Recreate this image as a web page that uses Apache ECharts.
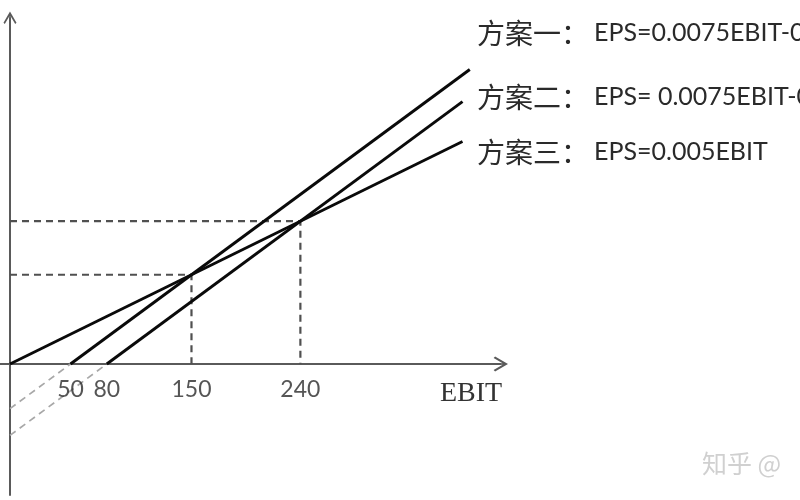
<!DOCTYPE html>
<html><head><meta charset="utf-8">
<script src="https://cdn.jsdelivr.net/npm/echarts@6/dist/echarts.min.js"></script>
<style>html,body{margin:0;padding:0;background:#fff}#c{width:800px;height:500px}</style>
</head><body><div id="c"></div>
<script>
// EBIT values shown as tick labels
const xTicks = [50, 80, 150, 240];
// Plan lines (EBIT, EPS)
const plan1 = [[50, 0], [380, 2.475]];
const plan2 = [[80, 0], [374, 2.205]];
const plan3 = [[0, 0], [374, 1.87]];
// Extensions below zero (dashed, light gray)
const plan1Ext = [[0, -0.375], [50, 0]];
const plan2Ext = [[0, -0.6], [80, 0]];
// Indifference-point guides
const guide150 = [[0, 0.75], [150, 0.75], [150, 0]];
const guide240 = [[0, 1.2], [240, 1.2], [240, 0]];
// Annotation texts
const planNames = ['方案一：', '方案二：', '方案三：'];
const planFormulas = ['EPS=0.0075EBIT-0.375', 'EPS= 0.0075EBIT-0.6', 'EPS=0.005EBIT'];
const axisTitle = 'EBIT';
const watermark = '知乎 @';

const chevron = 'path://M50,0 L100,86 L90,96 L55,36 L55,100 L45,100 L45,36 L10,96 L0,86 Z';
const chart = echarts.init(document.getElementById('c'));

function solid(data) {
  return { type: 'line', data, symbol: 'none', silent: true, z: 5,
    lineStyle: { color: '#0a0a0a', width: 2.9 } };
}
function dashed(data, color, width, dash) {
  return { type: 'line', data, symbol: 'none', silent: true, z: 3,
    lineStyle: { color, width, type: dash } };
}

const textYs = [33, 97, 152];
const graphics = planNames.map((n, i) => ({
  type: 'text', x: 477, y: textYs[i], silent: true,
  style: {
    text: '{a|' + n + '}{b|' + planFormulas[i] + '}',
    verticalAlign: 'middle',
    rich: {
      a: { fontSize: 28, fontFamily: 'Noto Sans CJK SC', fill: '#2a2a2a' },
      b: { fontSize: 25, fontFamily: 'Lato', fill: '#2a2a2a', padding: [0, 0, 0, 5] }
    }
  }
}));
graphics.push({ type: 'text', x: 440, y: 394, silent: true,
  style: { text: axisTitle, fontSize: 28, fontFamily: 'Liberation Serif', fill: '#333', verticalAlign: 'middle' } });
graphics.push({ type: 'text', x: 702, y: 463, silent: true,
  style: { text: watermark, fontSize: 25, fontFamily: 'Noto Sans CJK SC', fill: '#d0d0d0', verticalAlign: 'middle' } });

chart.setOption({
  animation: false,
  backgroundColor: '#fff',
  grid: { left: 0, right: 299.5, top: 18, bottom: 5, containLabel: false, outerBoundsMode: 'none' },
  xAxis: {
    type: 'value', min: -8.26, max: 405.4,
    axisLine: { onZero: true, symbol: ['none', chevron], symbolSize: [16, 15],
      lineStyle: { color: '#5a5a5a', width: 2 } },
    axisTick: { show: false },
    splitLine: { show: false },
    axisLabel: { show: false }
  },
  yAxis: {
    type: 'value', min: -1.101, max: 2.908,
    axisLine: { onZero: true, symbol: ['none', chevron], symbolSize: [18, 13],
      lineStyle: { color: '#5a5a5a', width: 2 } },
    axisTick: { show: false },
    splitLine: { show: false },
    axisLabel: { show: false }
  },
  series: [
    dashed(guide150, '#505050', 2.2, [7, 5]),
    dashed(guide240, '#505050', 2.2, [7, 5]),
    dashed(plan1Ext, '#a8a8a8', 1.7, [7, 5]),
    dashed(plan2Ext, '#a8a8a8', 1.7, [7, 5]),
    solid(plan1),
    solid(plan2),
    solid(plan3),
    { type: 'scatter', silent: true, symbolSize: 0, z: 6,
      data: xTicks.map(v => [v, 0]),
      label: { show: true, position: 'bottom', distance: 14,
        formatter: p => String(p.value[0]),
        fontSize: 23, fontFamily: 'Lato', color: '#2a2a2a' } }
  ],
  graphic: graphics
});
</script></body></html>
